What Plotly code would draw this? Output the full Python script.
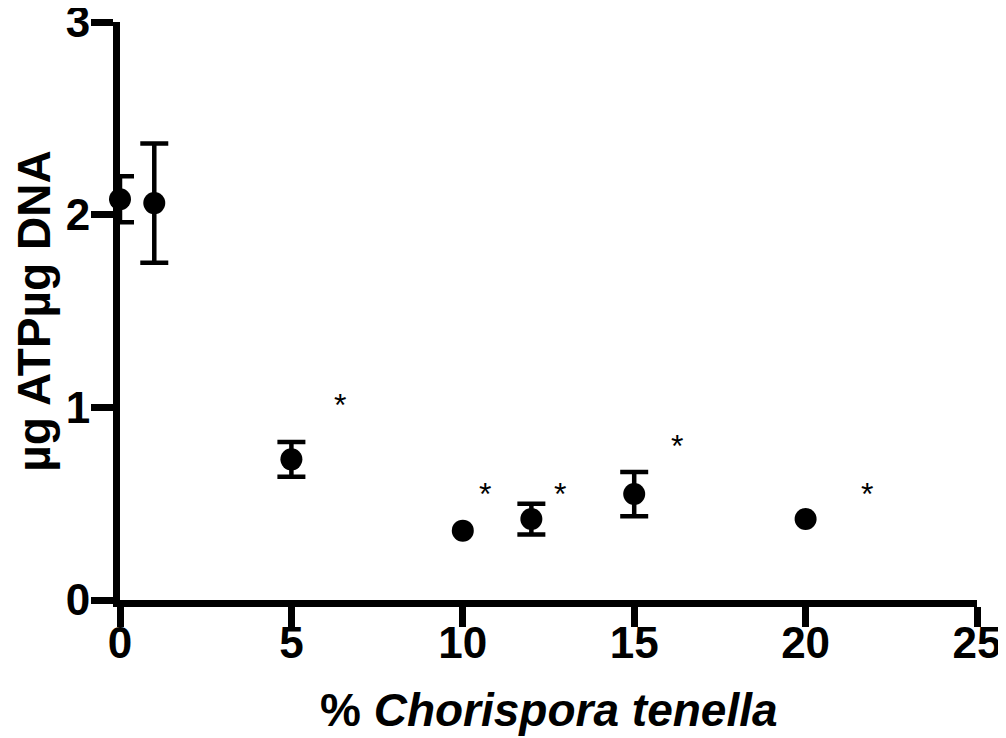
import plotly.graph_objects as go

# Data
x_vals = [0, 1, 5, 10, 12, 15, 20]
y_vals = [2.08, 2.06, 0.73, 0.36, 0.42, 0.55, 0.42]
y_err = [0.12, 0.31, 0.09, None, 0.08, 0.115, None]

star_x = [6.42, 10.65, 12.84, 16.25, 21.8]
star_y = [1.01, 0.55, 0.55, 0.80, 0.55]

x_ticks = [0, 5, 10, 15, 20, 25]
y_ticks = [0, 1, 2, 3]

x_title = "% <i>Chorispora tenella</i>"
y_title = "µg ATPµg DNA"

FONT = "Arial, Liberation Sans, Helvetica, sans-serif"

fig = go.Figure()

# points with error bars
ex = [x for x, e in zip(x_vals, y_err) if e is not None]
ey = [y for y, e in zip(y_vals, y_err) if e is not None]
ee = [e for e in y_err if e is not None]
fig.add_trace(go.Scatter(
    x=ex, y=ey, mode="markers",
    marker=dict(size=22, color="black"),
    error_y=dict(type="data", array=ee, visible=True, color="black",
                 thickness=4.5, width=14),
    cliponaxis=False, showlegend=False,
))
# points without error bars
nx = [x for x, e in zip(x_vals, y_err) if e is None]
ny = [y for y, e in zip(y_vals, y_err) if e is None]
fig.add_trace(go.Scatter(
    x=nx, y=ny, mode="markers",
    marker=dict(size=22, color="black"),
    cliponaxis=False, showlegend=False,
))

for sx, sy in zip(star_x, star_y):
    fig.add_annotation(x=sx, y=sy, text="*", showarrow=False,
                       font=dict(family=FONT, size=32, color="black"),
                       xanchor="center", yanchor="middle")

# x axis title as annotation for exact placement
fig.add_annotation(x=0.5, y=-0.19, xref="paper", yref="paper",
                   text=x_title, showarrow=False,
                   font=dict(family=FONT, size=46, color="black", weight="bold"),
                   xanchor="center", yanchor="middle")

fig.update_layout(
    width=998, height=730,
    margin=dict(l=112, r=29, t=14, b=138),
    paper_bgcolor="white", plot_bgcolor="white",
    font=dict(family=FONT, color="black"),
)

fig.update_xaxes(
    range=[0, 25], tickvals=x_ticks, ticktext=[str(v) for v in x_ticks],
    showgrid=False, zeroline=False, automargin=False,
    showline=True, linewidth=7, linecolor="black",
    ticks="outside", ticklen=20, tickwidth=7, tickcolor="black",
    ticklabeloverflow="allow", ticklabelstandoff=-22,
    tickfont=dict(family=FONT, size=44, color="black", weight="bold"),
)
fig.update_yaxes(
    range=[0, 3], tickvals=y_ticks, ticktext=[str(v) for v in y_ticks],
    showgrid=False, zeroline=False, automargin=False,
    showline=True, linewidth=7, linecolor="black",
    ticks="outside", ticklen=22, tickwidth=7, tickcolor="black",
    ticklabeloverflow="allow", ticklabelstandoff=-8,
    tickfont=dict(family=FONT, size=44, color="black", weight="bold"),
    title=dict(text=y_title,
               font=dict(family=FONT, size=46, color="black", weight="bold"),
               standoff=18),
)

fig.write_html("out.html")
